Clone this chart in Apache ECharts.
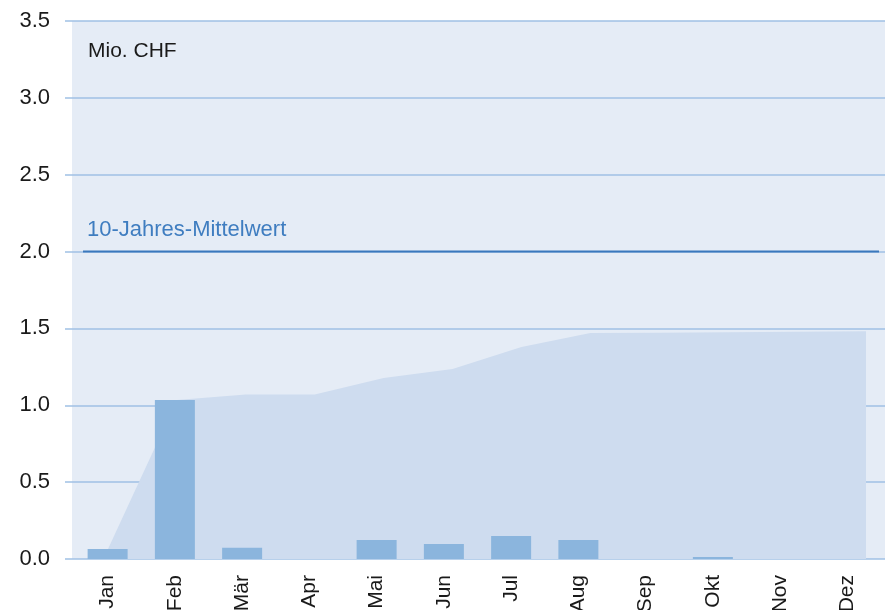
<!DOCTYPE html>
<html>
<head>
<meta charset="utf-8">
<script src="https://cdn.jsdelivr.net/npm/echarts@6/dist/echarts.min.js"></script>
<style>
html, body { margin: 0; padding: 0; background: #fff; }
#chart { width: 885px; height: 610px; }
</style>
</head>
<body>
<div id="chart"></div>
<script>
var months = ['Jan', 'Feb', 'Mär', 'Apr', 'Mai', 'Jun', 'Jul', 'Aug', 'Sep', 'Okt', 'Nov', 'Dez'];
var monthly = [0.065, 1.035, 0.074, 0, 0.124, 0.098, 0.15, 0.124, 0, 0.013, 0, 0];
var cumulative = [0.065, 1.035, 1.07, 1.07, 1.178, 1.236, 1.379, 1.47, 1.472, 1.475, 1.478, 1.482];
var tenYearMean = 2.0;
var meanLabel = '10-Jahres-Mittelwert';
var unitLabel = 'Mio. CHF';

var font = 'Liberation Sans, Arial, sans-serif';
var chart = echarts.init(document.getElementById('chart'));

var gridTop = 21, gridBottom = 51;
function grid(left, right) {
    return { left: left, right: right, top: gridTop, bottom: gridBottom, outerBoundsMode: 'none', containLabel: false };
}
var option = {
    animation: false,
    backgroundColor: '#fff',
    textStyle: { fontFamily: font },
    graphic: [{
        type: 'rect',
        z: -100,
        shape: { x: 72, y: gridTop, width: 885 - 72, height: 610 - gridTop - gridBottom },
        style: { fill: '#e5ecf6' }
    }],
    title: {
        text: unitLabel,
        left: 83,
        top: 36,
        textStyle: { fontFamily: font, fontSize: 21, fontWeight: 'normal', color: '#1a1a1a' }
    },
    grid: [
        grid(65, 0),   // y labels + gridlines
        grid(74, 4),   // monthly bars
        grid(108, 19), // cumulative area
        grid(83, 6)    // mean line
    ],
    xAxis: [
        { gridIndex: 0, type: 'category', data: months, show: false },
        {
            gridIndex: 1,
            type: 'category',
            data: months,
            axisLine: { show: false },
            axisTick: { show: false },
            axisLabel: {
                rotate: 90,
                margin: 16,
                fontSize: 21,
                color: '#1a1a1a',
                fontFamily: font
            }
        },
        { gridIndex: 2, type: 'category', data: months, boundaryGap: false, show: false },
        { gridIndex: 3, type: 'category', data: ['a', 'b'], boundaryGap: false, show: false }
    ],
    yAxis: [
        {
            gridIndex: 0,
            type: 'value',
            min: 0,
            max: 3.5,
            interval: 0.5,
            axisLine: { show: false },
            axisTick: { show: false },
            axisLabel: {
                margin: 15,
                fontSize: 22,
                color: '#1a1a1a',
                fontFamily: font,
                formatter: function (v) { return v.toFixed(1); }
            },
            splitLine: { lineStyle: { color: '#9fc0e4', width: 1.5 } }
        },
        { gridIndex: 1, type: 'value', min: 0, max: 3.5, show: false },
        { gridIndex: 2, type: 'value', min: 0, max: 3.5, show: false },
        { gridIndex: 3, type: 'value', min: 0, max: 3.5, show: false }
    ],
    series: [
        {
            type: 'line',
            z: 1,
            xAxisIndex: 2,
            yAxisIndex: 2,
            data: cumulative,
            symbol: 'none',
            lineStyle: { width: 0 },
            areaStyle: { color: '#cedcef', opacity: 1 }
        },
        {
            type: 'bar',
            z: 3,
            xAxisIndex: 1,
            yAxisIndex: 1,
            data: monthly,
            barWidth: 40,
            itemStyle: { color: '#8bb5dd' }
        },
        {
            type: 'line',
            z: 4,
            xAxisIndex: 3,
            yAxisIndex: 3,
            data: [tenYearMean, tenYearMean],
            symbol: 'none',
            lineStyle: { color: '#3a78bd', width: 2 },
            markLine: {
                silent: true,
                symbol: 'none',
                data: [{ yAxis: tenYearMean }],
                lineStyle: { color: 'rgba(0,0,0,0)', width: 0 },
                label: {
                    position: 'insideStartTop',
                    distance: [4, 11],
                    formatter: meanLabel,
                    fontSize: 22,
                    fontFamily: font,
                    color: '#3f7dc0'
                }
            }
        }
    ]
};
chart.setOption(option);
</script>
</body>
</html>
